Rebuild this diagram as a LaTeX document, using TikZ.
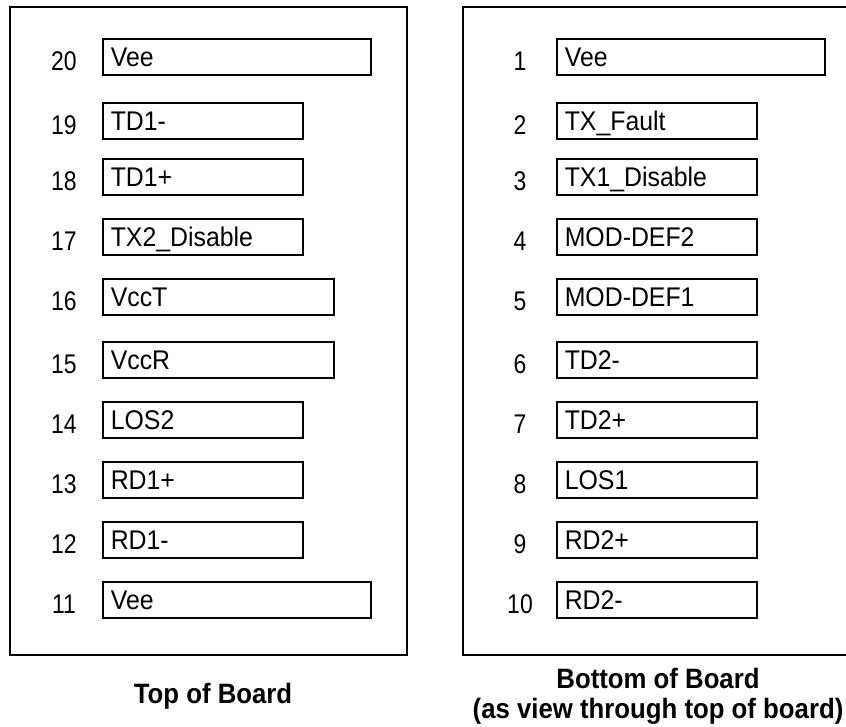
\documentclass[tikz,border=0pt]{standalone}
\usepackage{fontspec}
\setmainfont{Liberation Sans}
\newfontfamily\pinfont[FakeStretch=0.92]{Liberation Sans}
\newfontfamily\numfont[FakeStretch=0.85]{Liberation Sans}
\newfontfamily\captionfont[FakeStretch=0.92]{Liberation Sans}
\usetikzlibrary{positioning}

\begin{document}
\begin{tikzpicture}[
   x=1pt, y=-1pt,
   boardframe/.style={draw=black, line width=1.8pt},
   pin/.style={rectangle, draw=black, line width=1.6pt, anchor=west, minimum height=36, inner xsep=8, inner ysep=0, align=left, text height=19, text depth=0, font=\pinfont\fontsize{27}{30}\selectfont},
   pinlong/.style={pin, text width=252},
   pinmid/.style={pin, text width=215},
   pinshort/.style={pin, text width=184},
   pinnum/.style={inner sep=0, text height=19, text depth=0, font=\numfont\fontsize{27}{30}\selectfont},
   boardcaption/.style={anchor=base, inner sep=0, font=\captionfont\bfseries\fontsize{28}{30}\selectfont}
]
   \useasboundingbox (0,0) rectangle (846,727);
   \clip (0,0) rectangle (846,727);

   % Frames
   \draw[boardframe] (10,7) rectangle (407,655);
   \draw[boardframe] (463,7) rectangle (862,655);

   % Top of board
   \node[pinlong] (t20) at (102,57) {Vee};
   \node[pinshort] (t19) at (102,121) {TD1-};
   \node[pinshort] (t18) at (102,177) {TD1+};
   \node[pinshort] (t17) at (102,237) {TX2\_Disable};
   \node[pinmid] (t16) at (102,297) {VccT};
   \node[pinmid] (t15) at (102,360) {VccR};
   \node[pinshort] (t14) at (102,420) {LOS2};
   \node[pinshort] (t13) at (102,480) {RD1+};
   \node[pinshort] (t12) at (102,540) {RD1-};
   \node[pinlong] (t11) at (102,600) {Vee};

   \node[pinnum] (n20) at (64,61) {20};
   \node[pinnum] (n19) at (64,125) {19};
   \node[pinnum] (n18) at (64,181) {18};
   \node[pinnum] (n17) at (64,241) {17};
   \node[pinnum] (n16) at (64,301) {16};
   \node[pinnum] (n15) at (64,364) {15};
   \node[pinnum] (n14) at (64,424) {14};
   \node[pinnum] (n13) at (64,484) {13};
   \node[pinnum] (n12) at (64,544) {12};
   \node[pinnum] (n11) at (64,604) {11};

   % Bottom of board
   \node[pinlong] (b1) at (556,57) {Vee};
   \node[pinshort] (b2) at (556,121) {TX\_Fault};
   \node[pinshort] (b3) at (556,177) {TX1\_Disable};
   \node[pinshort] (b4) at (556,237) {MOD-DEF2};
   \node[pinshort] (b5) at (556,297) {MOD-DEF1};
   \node[pinshort] (b6) at (556,360) {TD2-};
   \node[pinshort] (b7) at (556,420) {TD2+};
   \node[pinshort] (b8) at (556,480) {LOS1};
   \node[pinshort] (b9) at (556,540) {RD2+};
   \node[pinshort] (b10) at (556,600) {RD2-};

   \node[pinnum] (n1) at (520,61) {1};
   \node[pinnum] (n2) at (520,125) {2};
   \node[pinnum] (n3) at (520,181) {3};
   \node[pinnum] (n4) at (520,241) {4};
   \node[pinnum] (n5) at (520,301) {5};
   \node[pinnum] (n6) at (520,364) {6};
   \node[pinnum] (n7) at (520,424) {7};
   \node[pinnum] (n8) at (520,484) {8};
   \node[pinnum] (n9) at (520,544) {9};
   \node[pinnum] (n10) at (520,604) {10};

   % Captions
   \node[boardcaption] (topcap) at (213,703) {Top of Board};
   \node[boardcaption] (botcap) at (658,688) {Bottom of Board};
   \node[boardcaption] (botnote) at (658,718) {(as view through top of board)};
\end{tikzpicture}
\end{document}
